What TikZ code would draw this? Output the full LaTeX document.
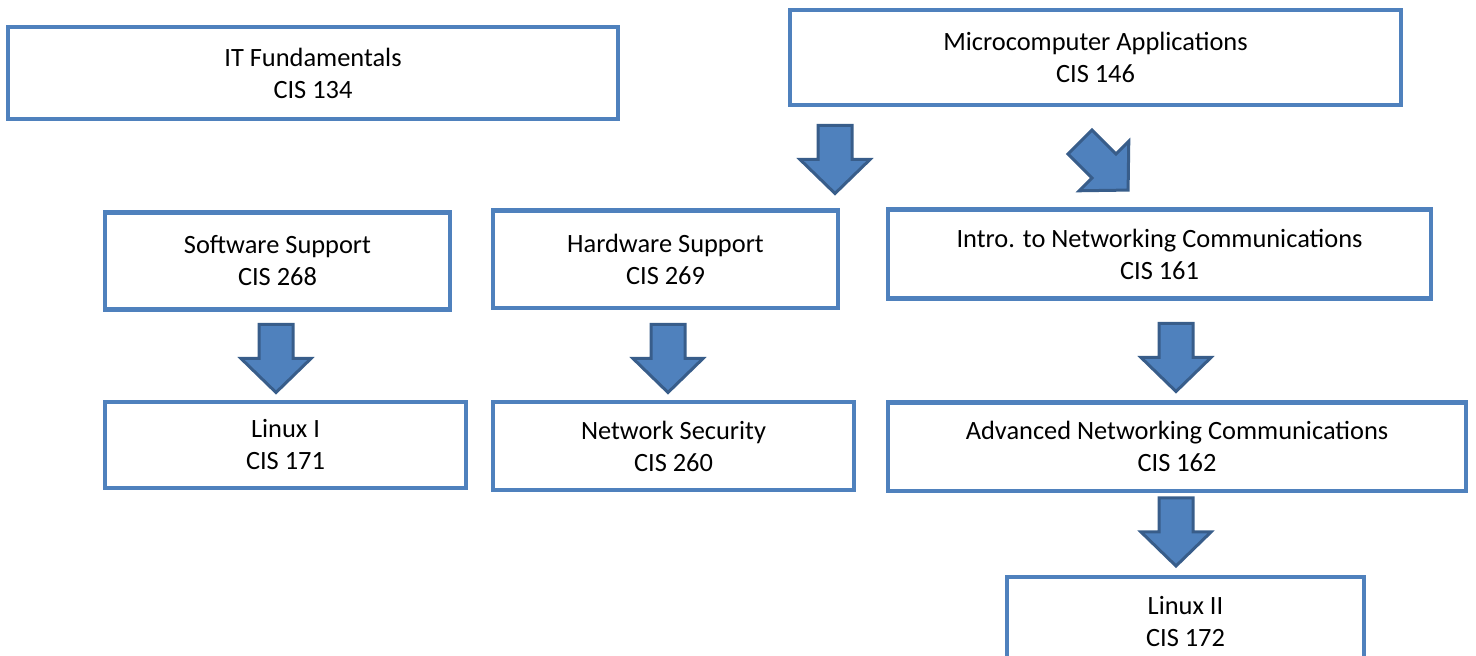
\documentclass[tikz,border=0pt]{standalone}
\usepackage{fontspec}
\setmainfont{Carlito}
\definecolor{boxblue}{HTML}{4F81BD}
\definecolor{arrowedge}{HTML}{385D8A}
\tikzset{
  course/.style={draw=boxblue, line width=2.2pt, fill=white, align=center,
    inner sep=0pt, font=\fontsize{13.2}{16}\selectfont, text=black},
  blockarrow/.style={fill=boxblue, draw=arrowedge, line width=1.5pt, line join=miter},
  dnarrow/.pic={\draw[blockarrow] (-17,0) -- (17,0) -- (17,34) -- (35,34) -- (0,68) -- (-35,34) -- (-17,34) -- cycle;}
}
\begin{document}
\begin{tikzpicture}[x=0.5pt, y=-0.5pt]
\useasboundingbox (0,0) rectangle (1476,656);
\clip (0,0) rectangle (1476,656);
% course boxes
\node[course, minimum width=305pt, minimum height=46pt] (it) at (313,73) {IT Fundamentals\\CIS 134};
\node[course, minimum width=305.5pt, minimum height=47.5pt] (micro) at (1095.5,57.5) {Microcomputer Applications\\CIS 146};
\node[course, minimum width=172.5pt, minimum height=48.5pt] (soft) at (277.5,261) {Software Support\\CIS 268};
\node[course, minimum width=172.5pt, minimum height=48.75pt] (hard) at (665.5,259.25) {Hardware Support\\CIS 269};
\node[course, minimum width=271.5pt, minimum height=44.5pt] (intro) at (1159.5,254) {Intro. to Networking Communications\\CIS 161};
\node[course, minimum width=180.5pt, minimum height=43pt] (lin1) at (285.5,445) {Linux I\\CIS 171};
\node[course, minimum width=180.5pt, minimum height=44pt] (sec) at (673.5,446) {Network Security\\CIS 260};
\node[course, minimum width=289pt, minimum height=44.25pt] (adv) at (1177,446.75) {Advanced Networking Communications\\CIS 162};
\node[course, minimum width=178.5pt, minimum height=45pt] (lin2) at (1185.5,622) {Linux II\\CIS 172};
% block arrows
\pic (a1) at (835,125.5) {dnarrow};
\pic[rotate=45] (a2) at (1080,142) {dnarrow};
\pic (a3) at (276,324.5) {dnarrow};
\pic (a4) at (668,324.5) {dnarrow};
\pic (a5) at (1176,323.5) {dnarrow};
\pic (a6) at (1176,498) {dnarrow};
\end{tikzpicture}
\end{document}
